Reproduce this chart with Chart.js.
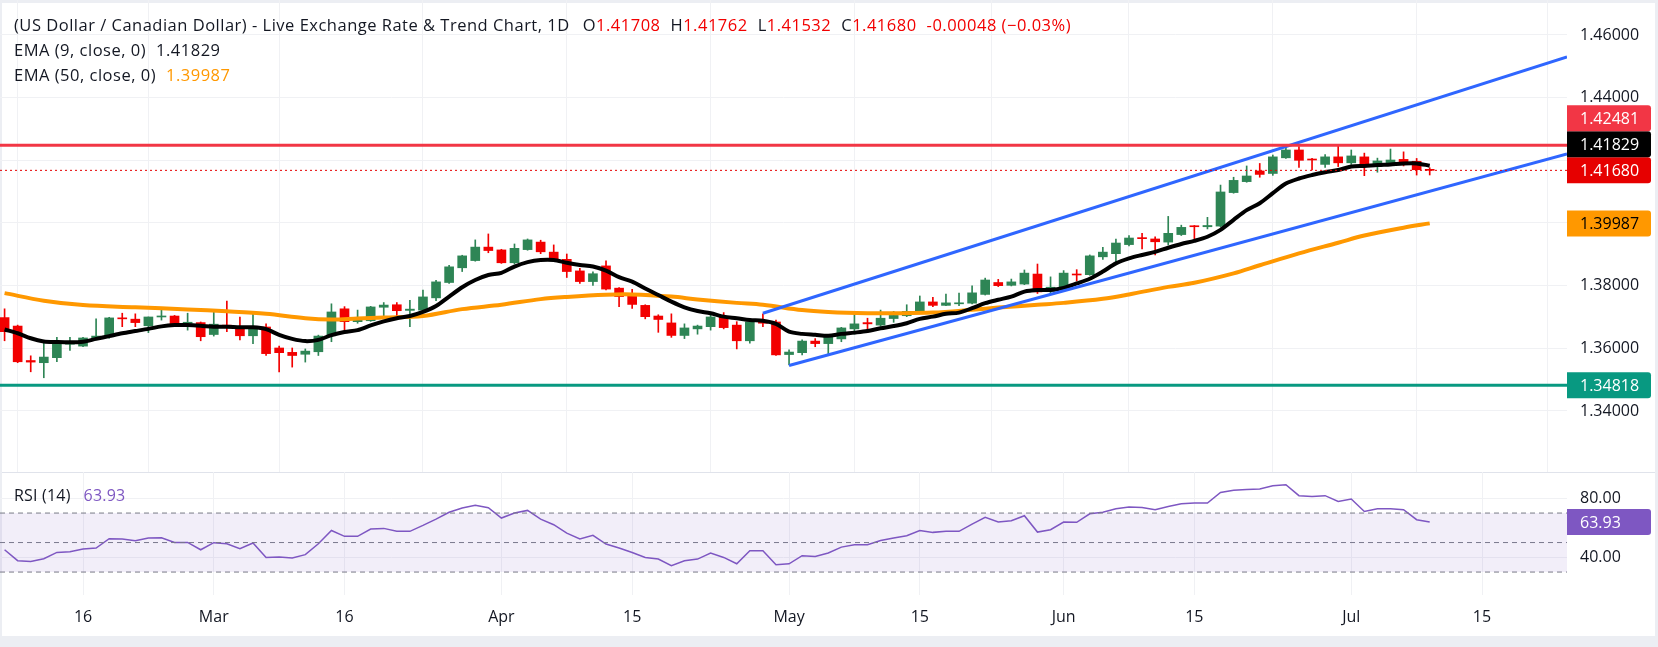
<!DOCTYPE html>
<html>
<head>
<meta charset="utf-8">
<title>USD/CAD Daily</title>
<script src="https://cdn.jsdelivr.net/npm/chart.js@4.4.1/dist/chart.umd.min.js"></script>
<style>
  html, body { margin: 0; padding: 0; }
  body { width: 1658px; height: 647px; background: #eceef3; position: relative; overflow: hidden;
         font-family: "Open Sans", "Liberation Sans", Arial, sans-serif; color: #131722; }
  #frame { position: absolute; left: 2px; top: 3px; width: 1653px; height: 633px; background: #fff; }
  canvas { position: absolute; left: 0; }
  #main { top: 0; }
  #rsi { top: 472px; }
  #sep { position: absolute; left: 2px; top: 472px; width: 1653px; height: 1px; background: #e0e3eb; }
  .legend { position: absolute; left: 14px; font-size: 16.5px; letter-spacing: 0.5px; line-height: 20px; white-space: nowrap; }
  .legend.rsi { font-size: 16px; letter-spacing: 0.2px; }
  .dn { color: #f20000; }
  .gap { margin-left: 10px; }
  .gap2 { margin-left: 13px; }
</style>
</head>
<body>
<div id="frame"></div>
<canvas id="main" width="1658" height="472"></canvas>
<div id="sep"></div>
<canvas id="rsi" width="1658" height="164"></canvas>

<div class="legend" style="top:15px">(US Dollar / Canadian Dollar) - Live Exchange Rate &amp; Trend Chart, 1D<span class="gap2">O</span><span class="dn">1.41708</span><span class="gap">H</span><span class="dn">1.41762</span><span class="gap">L</span><span class="dn">1.41532</span><span class="gap">C</span><span class="dn">1.41680</span><span class="dn gap">-0.00048 (−0.03%)</span></div>
<div class="legend" style="top:40px">EMA (9, close, 0)<span class="gap">1.41829</span></div>
<div class="legend" style="top:65px">EMA (50, close, 0)<span class="gap" style="color:#ff9800">1.39987</span></div>
<div class="legend rsi" style="top:485px">RSI (14)<span class="gap2" style="color:#7e57c2">63.93</span></div>

<script>
// ---- data (daily bars, 6 Feb -> 9 Jul) ----
const OPEN = [1.3698,1.3671,1.3561,1.3554,1.3570,1.3613,1.3607,1.3630,1.3637,1.3696,
  1.3693,1.3672,1.3700,1.3703,1.3680,1.3682,1.3644,1.3674,1.3669,1.3640,
  1.3668,1.3601,1.3587,1.3581,1.3589,1.3640,1.3726,1.3685,1.3688,1.3731,
  1.3739,1.3721,1.3722,1.3761,1.3810,1.3857,1.3880,1.3923,1.3914,1.3873,
  1.3915,1.3939,1.3907,1.3884,1.3847,1.3813,1.3863,1.3792,1.3767,1.3737,
  1.3703,1.3681,1.3641,1.3662,1.3669,1.3700,1.3674,1.3624,1.3685,1.3684,
  1.3580,1.3586,1.3623,1.3615,1.3630,1.3662,1.3682,1.3674,1.3695,1.3704,
  1.3717,1.3748,1.3737,1.3742,1.3744,1.3772,1.3810,1.3801,1.3805,1.3837,
  1.3782,1.3790,1.3837,1.3835,1.3892,1.3902,1.3931,1.3953,1.3949,1.3939,
  1.3963,1.3990,1.3988,1.3990,1.4097,1.4132,1.4166,1.4158,1.4208,1.4233,
  1.4203,1.4187,1.4211,1.4192,1.4211,1.4180,1.4192,1.4203,1.4197,1.41708];
const HIGH = [1.3726,1.3674,1.3576,1.3618,1.3635,1.3635,1.3635,1.3694,1.3699,1.3712,
  1.3710,1.3700,1.3724,1.3705,1.3712,1.3684,1.3718,1.3751,1.3700,1.3716,
  1.3678,1.3607,1.3601,1.3598,1.3642,1.3742,1.3733,1.3722,1.3734,1.3746,
  1.3746,1.3753,1.3786,1.3817,1.3865,1.3897,1.3946,1.3965,1.3916,1.3933,
  1.3949,1.3945,1.3930,1.3901,1.3855,1.3844,1.3879,1.3794,1.3788,1.3739,
  1.3707,1.3710,1.3678,1.3674,1.3714,1.3714,1.3685,1.3690,1.3710,1.3690,
  1.3595,1.3627,1.3631,1.3643,1.3667,1.3710,1.3696,1.3722,1.3718,1.3739,
  1.3767,1.3763,1.3773,1.3776,1.3799,1.3824,1.3820,1.3821,1.3850,1.3869,
  1.3828,1.3848,1.3851,1.3898,1.3922,1.3949,1.3960,1.3967,1.3956,1.4021,
  1.3993,1.3992,1.4018,1.4121,1.4146,1.4182,1.4190,1.4217,1.4251,1.4244,
  1.4206,1.4218,1.4246,1.4233,1.4223,1.4207,1.4236,1.4227,1.4206,1.41762];
const LOW = [1.3624,1.3554,1.3525,1.3506,1.3557,1.3593,1.3605,1.3628,1.3632,1.3669,
  1.3669,1.3650,1.3690,1.3673,1.3658,1.3624,1.3639,1.3653,1.3627,1.3615,
  1.3577,1.3525,1.3540,1.3556,1.3577,1.3621,1.3653,1.3680,1.3686,1.3701,
  1.3701,1.3669,1.3720,1.3752,1.3807,1.3845,1.3878,1.3905,1.3871,1.3869,
  1.3913,1.3902,1.3880,1.3826,1.3807,1.3801,1.3786,1.3733,1.3727,1.3694,
  1.3651,1.3635,1.3631,1.3645,1.3658,1.3662,1.3598,1.3616,1.3669,1.3577,
  1.3547,1.3579,1.3605,1.3579,1.3621,1.3645,1.3651,1.3671,1.3683,1.3701,
  1.3715,1.3733,1.3736,1.3736,1.3742,1.3770,1.3797,1.3799,1.3803,1.3775,
  1.3773,1.3788,1.3815,1.3833,1.3884,1.3869,1.3927,1.3917,1.3898,1.3930,
  1.3960,1.3949,1.3981,1.3988,1.4095,1.4130,1.4146,1.4152,1.4206,1.4177,
  1.4169,1.4177,1.4180,1.4187,1.4151,1.4162,1.4190,1.4182,1.4153,1.41532];
const CLOSE = [1.3653,1.3557,1.3556,1.3572,1.3614,1.3618,1.3633,1.3639,1.3697,1.3694,
  1.3682,1.3700,1.3703,1.3675,1.3683,1.3637,1.3677,1.3667,1.3640,1.3669,
  1.3583,1.3586,1.3577,1.3591,1.3639,1.3716,1.3685,1.3690,1.3732,1.3738,
  1.3720,1.3725,1.3764,1.3812,1.3860,1.3895,1.3923,1.3912,1.3873,1.3919,
  1.3946,1.3908,1.3882,1.3845,1.3813,1.3838,1.3789,1.3765,1.3740,1.3701,
  1.3692,1.3641,1.3665,1.3671,1.3700,1.3666,1.3624,1.3684,1.3680,1.3579,
  1.3588,1.3623,1.3615,1.3638,1.3665,1.3678,1.3678,1.3696,1.3705,1.3718,
  1.3748,1.3737,1.3745,1.3745,1.3777,1.3818,1.3800,1.3812,1.3840,1.3780,
  1.3795,1.3840,1.3834,1.3895,1.3907,1.3936,1.3952,1.3950,1.3940,1.3967,
  1.3986,1.3988,1.3992,1.4099,1.4136,1.4150,1.4155,1.4211,1.4233,1.4200,
  1.4201,1.4211,1.4192,1.4214,1.4180,1.4198,1.4201,1.4188,1.4170,1.41680];

const EMA9 = [1.3660,1.3648,1.3632,1.3622,1.3620,1.3619,1.3621,1.3630,1.3639,1.3648,
  1.3655,1.3662,1.3670,1.3674,1.3674,1.3672,1.3669,1.3669,1.3667,1.3667,
  1.3661,1.3643,1.3630,1.3623,1.3627,1.3642,1.3652,1.3658,1.3673,1.3686,
  1.3696,1.3703,1.3716,1.3735,1.3765,1.3795,1.3818,1.3834,1.3841,1.3861,
  1.3875,1.3882,1.3882,1.3873,1.3866,1.3861,1.3848,1.3827,1.3813,1.3791,
  1.3770,1.3749,1.3731,1.3719,1.3712,1.3701,1.3696,1.3690,1.3688,1.3678,
  1.3653,1.3646,1.3643,1.3640,1.3646,1.3650,1.3655,1.3664,1.3671,1.3680,
  1.3694,1.3701,1.3710,1.3714,1.3728,1.3744,1.3755,1.3765,1.3781,1.3786,
  1.3786,1.3793,1.3807,1.3822,1.3845,1.3871,1.3887,1.3898,1.3908,1.3921,
  1.3933,1.3943,1.3956,1.3978,1.4010,1.4041,1.4063,1.4095,1.4126,1.4142,
  1.4153,1.4162,1.4169,1.4180,1.4182,1.4185,1.4187,1.4190,1.4190,1.41829];

const EMA50_IDX = [0,3,6,10,14,17,20,23,25,27,29,32,35,38,41,43,46,48,51,53,56,58,61,63,
  66,68,71,74,76,79,81,84,86,89,91,94,96,99,102,104,107,109];
const EMA50 = [1.3776,1.3752,1.3738,1.3731,1.3724,1.3718,1.3710,1.3696,1.3692,1.3695,1.3698,
  1.3703,1.3725,1.3739,1.3757,1.3764,1.3771,1.3772,1.3765,1.3756,1.3745,1.3739,1.3722,1.3716,
  1.3712,1.3712,1.3714,1.3723,1.3730,1.3739,1.3745,1.3758,1.3772,1.3796,1.3809,1.3839,1.3865,
  1.3903,1.3937,1.3960,1.3985,1.39987];

const RSI = [45.1,37.7,37.2,39.0,43.3,43.8,45.6,46.3,52.6,52.4,
  51.2,53.1,53.3,50.1,50.1,45.1,49.9,49.2,45.8,49.7,
  39.9,40.2,39.5,41.8,49.2,58.2,54.2,54.2,59.2,59.6,
  57.6,57.6,61.6,65.9,70.5,73.4,75.2,73.6,66.6,70.0,
  71.8,65.9,62.1,56.4,52.4,54.9,49.0,46.3,43.3,39.9,
  38.8,34.3,37.7,38.8,42.9,39.9,35.6,44.5,44.5,35.0,
  35.6,41.1,40.6,42.9,46.9,48.5,48.5,51.4,53.1,54.6,
  58.2,56.9,57.6,57.6,62.5,67.1,63.9,64.8,68.2,57.1,
  58.7,63.9,63.7,69.5,70.5,72.9,74.1,73.8,72.3,74.5,
  76.3,76.8,76.8,84.0,85.4,86.0,86.3,88.5,89.2,81.8,
  81.3,81.8,77.9,79.5,71.1,72.9,72.9,72.3,65.5,63.93];

// trend channel (bar index, price)
const UPPER_X = [58, 119.5];
const UPPER_Y = [1.3712, 1.4530];
const LOWER_X = [60, 119.5];
const LOWER_Y = [1.3545, 1.4220];

const RESISTANCE = 1.42481;
const SUPPORT = 1.34818;
const LAST_PRICE = 1.41680;
const EMA9_LAST = 1.41829;
const EMA50_LAST = 1.39987;
const RSI_LAST = 63.93;
const RSI_LEVELS = [70, 50, 30];

const TICK_IDX = [6, 16, 26, 38, 48, 60, 70, 81, 91, 103, 113];
const TICK_LABELS = ['16', 'Mar', '16', 'Apr', '15', 'May', '15', 'Jun', '15', 'Jul', '15'];
const PRICE_TICKS = [1.34, 1.36, 1.38, 1.40, 1.42, 1.44, 1.46];
const PRICE_HIDDEN = [1.40, 1.42];   // covered by the value tags
const RSI_TICKS = [40, 80];

// ---- look ----
const X_MIN = -0.35, X_MAX = 119.5;
const UP = '#2e8555', DOWN = '#f20000';
const GRID = '#f0f1f4';
const TEXT = '#131722';
const FONT = { family: '"Open Sans", "Liberation Sans", Arial, sans-serif', size: 16 };
const AXIS_W = 91;

const candleColors = OPEN.map((o, i) => CLOSE[i] >= o ? UP : DOWN);

function flatLine(v) {
  return [{ x: X_MIN, y: v }, { x: X_MAX, y: v }];
}

function xTicks(scale) {
  scale.ticks = TICK_IDX.map(v => ({ value: v }));
}

// keep the plot area flush with the canvas edges
function noPad(scale) {
  scale.paddingTop = 0;
  scale.paddingBottom = 0;
  scale.paddingLeft = 0;
  scale.paddingRight = 0;
}

// value tags on the right axis, pushed apart when they overlap
function tagPlugin(tags, h) {
  return {
    id: 'tags',
    afterDraw(chart) {
      const { ctx, chartArea, scales } = chart;
      const items = tags.map(t => ({ ...t, y: scales.y.getPixelForValue(t.v) }))
        .sort((a, b) => b.y - a.y);
      for (let k = 1; k < items.length; k++) {
        items[k].y = Math.min(items[k].y, items[k - 1].y - h);
      }
      ctx.save();
      ctx.font = FONT.size + 'px ' + FONT.family;
      ctx.textBaseline = 'middle';
      items.forEach(t => {
        const x = chartArea.right, y = t.y - h / 2;
        ctx.fillStyle = t.bg;
        ctx.beginPath();
        ctx.roundRect(x, y, 84, h, [0, 3, 3, 0]);
        ctx.fill();
        ctx.fillStyle = t.fg;
        ctx.fillText(t.label, x + 13, t.y + 1);
      });
      ctx.restore();
    }
  };
}

// ---- price pane ----
const mainChart = new Chart(document.getElementById('main'), {
  type: 'bar',
  data: {
    datasets: [
      {
        label: 'wick',
        data: OPEN.map((o, i) => ({ x: i, y: [LOW[i], HIGH[i]] })),
        backgroundColor: candleColors,
        barThickness: 1,
        grouped: false,
        order: 10
      },
      {
        label: 'body',
        data: OPEN.map((o, i) => ({ x: i, y: [o, CLOSE[i]] })),
        backgroundColor: candleColors,
        barThickness: 9,
        minBarLength: 1,
        grouped: false,
        order: 9
      },
      {
        type: 'line', label: 'EMA 50',
        data: EMA50_IDX.map((x, k) => ({ x: x, y: EMA50[k] })),
        borderColor: '#ff9800', borderWidth: 4, pointRadius: 0, tension: 0.35, order: 4
      },
      {
        type: 'line', label: 'EMA 9',
        data: EMA9.map((v, i) => ({ x: i, y: v })),
        borderColor: '#000000', borderWidth: 4, pointRadius: 0, tension: 0.3, order: 3
      },
      {
        type: 'line', label: 'Upper trend',
        data: UPPER_X.map((x, k) => ({ x: x, y: UPPER_Y[k] })),
        borderColor: '#2f66ff', borderWidth: 3, pointRadius: 0, order: 2
      },
      {
        type: 'line', label: 'Lower trend',
        data: LOWER_X.map((x, k) => ({ x: x, y: LOWER_Y[k] })),
        borderColor: '#2f66ff', borderWidth: 3, pointRadius: 0, order: 2
      },
      {
        type: 'line', label: 'Resistance',
        data: flatLine(RESISTANCE),
        borderColor: '#f23645', borderWidth: 3, pointRadius: 0, order: 1
      },
      {
        type: 'line', label: 'Support',
        data: flatLine(SUPPORT),
        borderColor: '#089981', borderWidth: 3, pointRadius: 0, order: 1
      },
      {
        type: 'line', label: 'Last',
        data: flatLine(LAST_PRICE),
        borderColor: '#e60000', borderWidth: 1, borderDash: [2, 3], pointRadius: 0, order: 1
      }
    ]
  },
  options: {
    responsive: false,
    animation: false,
    layout: { padding: 0 },
    plugins: { legend: { display: false }, tooltip: { enabled: false } },
    scales: {
      x: {
        type: 'linear', min: X_MIN, max: X_MAX, offset: false,
        grid: { color: GRID, drawTicks: false },
        border: { display: false },
        ticks: { display: false },
        afterBuildTicks: xTicks,
        afterFit: s => { s.height = 0; noPad(s); }
      },
      y: {
        position: 'right',
        min: 1.46 - 437 / 3133, max: 1.46 + 35 / 3133,
        grid: { color: GRID, drawTicks: false },
        border: { display: false },
        ticks: {
          padding: 13, color: TEXT, font: FONT,
          callback: v => PRICE_HIDDEN.some(p => Math.abs(p - v) < 1e-6) ? '' : v.toFixed(5)
        },
        afterBuildTicks: s => { s.ticks = PRICE_TICKS.map(v => ({ value: v })); },
        afterFit: s => { s.width = AXIS_W; noPad(s); }
      }
    }
  },
  plugins: [tagPlugin([
    { v: RESISTANCE, label: RESISTANCE.toFixed(5), bg: '#f23645', fg: '#fff' },
    { v: EMA9_LAST, label: EMA9_LAST.toFixed(5), bg: '#000', fg: '#fff' },
    { v: LAST_PRICE, label: LAST_PRICE.toFixed(5), bg: '#e60000', fg: '#fff' },
    { v: EMA50_LAST, label: EMA50_LAST.toFixed(5), bg: '#ff9800', fg: '#000' },
    { v: SUPPORT, label: SUPPORT.toFixed(5), bg: '#089981', fg: '#fff' }
  ], 26)]
});

// ---- RSI pane ----
const rsiChart = new Chart(document.getElementById('rsi'), {
  type: 'line',
  data: {
    datasets: [
      {
        label: 'OB', data: flatLine(RSI_LEVELS[0]),
        borderColor: '#787b86', borderWidth: 1, borderDash: [5, 4], pointRadius: 0,
        fill: '+1', backgroundColor: 'rgba(126, 87, 194, 0.1)'
      },
      {
        label: 'OS', data: flatLine(RSI_LEVELS[2]),
        borderColor: '#787b86', borderWidth: 1, borderDash: [5, 4], pointRadius: 0, fill: false
      },
      {
        label: 'Mid', data: flatLine(RSI_LEVELS[1]),
        borderColor: '#787b86', borderWidth: 1, borderDash: [5, 4], pointRadius: 0, fill: false
      },
      {
        label: 'RSI', data: RSI.map((v, i) => ({ x: i, y: v })),
        borderColor: '#7e57c2', borderWidth: 1.5, pointRadius: 0, tension: 0, fill: false
      }
    ]
  },
  options: {
    responsive: false,
    animation: false,
    layout: { padding: 0 },
    plugins: { legend: { display: false }, tooltip: { enabled: false } },
    scales: {
      x: {
        type: 'linear', min: X_MIN, max: X_MAX, offset: false,
        grid: { color: GRID, drawTicks: false },
        border: { display: false },
        ticks: {
          padding: 13, color: TEXT, font: FONT, maxRotation: 0, autoSkip: false,
          callback: v => TICK_LABELS[TICK_IDX.indexOf(v)] || ''
        },
        afterBuildTicks: xTicks,
        afterFit: s => { s.height = 41; noPad(s); }
      },
      y: {
        position: 'right',
        min: 40 - 37.7 / 1.475, max: 80 + 26.3 / 1.475,
        grid: { color: GRID, drawTicks: false },
        border: { display: false },
        ticks: { padding: 13, color: TEXT, font: FONT, callback: v => v.toFixed(2) },
        afterBuildTicks: s => { s.ticks = RSI_TICKS.map(v => ({ value: v })); },
        afterFit: s => { s.width = AXIS_W; noPad(s); }
      }
    }
  },
  plugins: [tagPlugin([
    { v: RSI_LAST, label: RSI_LAST.toFixed(2), bg: '#7e57c2', fg: '#fff' }
  ], 26)]
});
</script>
</body>
</html>
